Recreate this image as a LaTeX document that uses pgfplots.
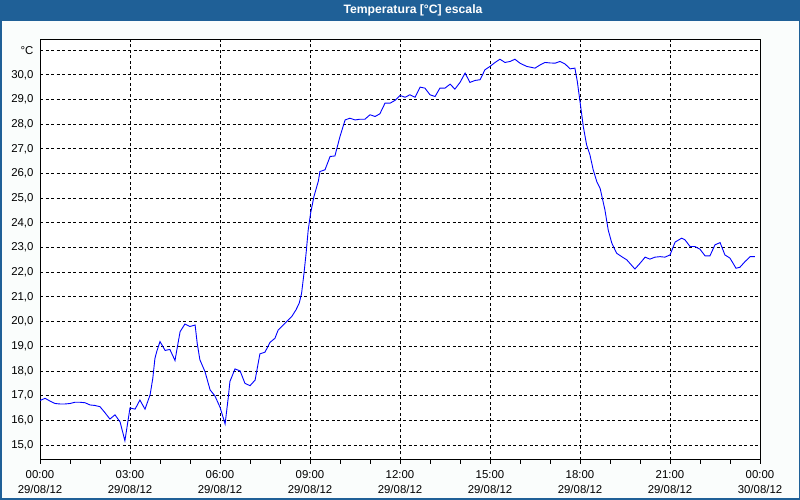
\documentclass[border=0pt]{standalone}
\usepackage{pgfplots}
\pgfplotsset{compat=1.18}
\usepackage{fontspec}
\setmainfont{Liberation Sans}
\definecolor{titlebar}{RGB}{31,96,151}
\definecolor{outerbg}{RGB}{250,253,252}
\begin{document}
\begin{tikzpicture}[x=1pt,y=1pt]
\fill[outerbg] (0,0) rectangle (800,500);
\fill[titlebar] (0,479) rectangle (800,500);
\draw[titlebar,line width=1.5pt] (0.75,0.75) rectangle (799.25,499.25);
\node[text=white,font=\fontsize{12.2}{14}\selectfont\bfseries] at (413,489.5) {Temperatura [°C] escala};
\begin{axis}[
  at={(40pt,40pt)}, anchor=south west,
  scale only axis, width=720pt, height=420pt,
  xmin=0, xmax=24, ymin=14.39, ymax=31.41,
  axis background/.style={fill=white},
  axis line style={black, line width=1pt},
  xtick={0,3,...,24},
  xticklabels={{00:00\\29/08/12},{03:00\\29/08/12},{06:00\\29/08/12},{09:00\\29/08/12},{12:00\\29/08/12},{15:00\\29/08/12},{18:00\\29/08/12},{21:00\\29/08/12},{00:00\\30/08/12}},
  minor xtick={1,2,4,5,7,8,10,11,13,14,16,17,19,20,22,23},
  ytick={15,...,31},
  yticklabels={{15,0},{16,0},{17,0},{18,0},{19,0},{20,0},{21,0},{22,0},{23,0},{24,0},{25,0},{26,0},{27,0},{28,0},{29,0},{30,0},{°C}},
  /pgf/number format/assume math mode=true,
  ticklabel style={font=\fontsize{11.4}{15}\selectfont, text=black},
  xticklabel style={align=center, yshift=-3pt},
  yticklabel style={xshift=1pt},
  xtick pos=bottom, ytick pos=left,
  tick align=outside,
  major tick length=4pt, minor tick length=4pt,
  every tick/.style={black, line width=0.8pt},
  ytick style={draw=none},
  xmajorgrids, ymajorgrids,
  major grid style={black, line width=0.8pt, dash pattern=on 3pt off 2.5pt},
  clip=true,
]
\addplot[color={rgb,255:red,0;green,0;blue,255}, line width=0.9pt, mark=none] coordinates {
(0,16.80) (0.17,16.89) (0.33,16.78) (0.5,16.68) (0.67,16.66) (0.83,16.66) (1.0,16.68) (1.17,16.73) (1.33,16.73) (1.5,16.71) (1.67,16.62) (1.83,16.6) (2.0,16.55) (2.17,16.3) (2.33,16.05) (2.5,16.22) (2.67,15.93) (2.83,15.17) (3.0,16.5) (3.17,16.45) (3.33,16.82) (3.5,16.45) (3.67,17.03) (3.76,17.7) (3.83,18.5) (3.89,18.78) (4.0,19.19) (4.17,18.83) (4.33,18.87) (4.5,18.42) (4.58,18.98) (4.67,19.59) (4.83,19.9) (5.0,19.8) (5.17,19.86) (5.24,19.12) (5.33,18.45) (5.5,17.97) (5.67,17.23) (5.83,16.99) (6.0,16.53) (6.17,15.85) (6.28,16.97) (6.33,17.57) (6.5,18.08) (6.67,18.0) (6.83,17.5) (7.0,17.4) (7.17,17.63) (7.33,18.69) (7.5,18.76) (7.67,19.16) (7.83,19.32) (7.94,19.66) (8.06,19.8) (8.22,20.0) (8.39,20.2) (8.53,20.47) (8.64,20.74) (8.72,21.15) (8.8,21.96) (8.87,22.77) (8.94,23.71) (9.02,24.39) (9.13,25.06) (9.28,25.7) (9.33,26.08) (9.5,26.15) (9.67,26.69) (9.83,26.71) (10.0,27.5) (10.17,28.17) (10.33,28.24) (10.5,28.17) (10.67,28.2) (10.83,28.2) (11.0,28.38) (11.17,28.31) (11.33,28.42) (11.5,28.85) (11.67,28.85) (11.83,28.96) (12.0,29.16) (12.17,29.09) (12.33,29.19) (12.5,29.09) (12.67,29.5) (12.83,29.46) (13.0,29.19) (13.17,29.12) (13.33,29.46) (13.5,29.46) (13.67,29.62) (13.83,29.42) (14.0,29.69) (14.17,30.07) (14.33,29.69) (14.5,29.77) (14.67,29.8) (14.83,30.2) (15.0,30.34) (15.17,30.5) (15.33,30.63) (15.5,30.5) (15.67,30.54) (15.83,30.63) (16.0,30.47) (16.22,30.34) (16.5,30.27) (16.67,30.4) (16.83,30.5) (17.0,30.48) (17.17,30.47) (17.33,30.54) (17.5,30.44) (17.67,30.24) (17.83,30.27) (17.91,29.73) (18.0,28.92) (18.11,27.9) (18.22,27.16) (18.33,26.76) (18.44,26.15) (18.56,25.67) (18.67,25.4) (18.83,24.53) (18.94,23.71) (19.06,23.18) (19.22,22.77) (19.39,22.63) (19.56,22.5) (19.83,22.13) (20.0,22.36) (20.17,22.61) (20.33,22.53) (20.5,22.61) (20.67,22.63) (20.83,22.61) (21.0,22.7) (21.17,23.22) (21.39,23.38) (21.5,23.31) (21.67,23.04) (21.83,23.04) (22.0,22.93) (22.17,22.66) (22.33,22.66) (22.5,23.11) (22.67,23.2) (22.83,22.7) (23.0,22.57) (23.2,22.16) (23.33,22.2) (23.5,22.43) (23.67,22.63) (23.83,22.63)
};
\end{axis}
\end{tikzpicture}
\end{document}
